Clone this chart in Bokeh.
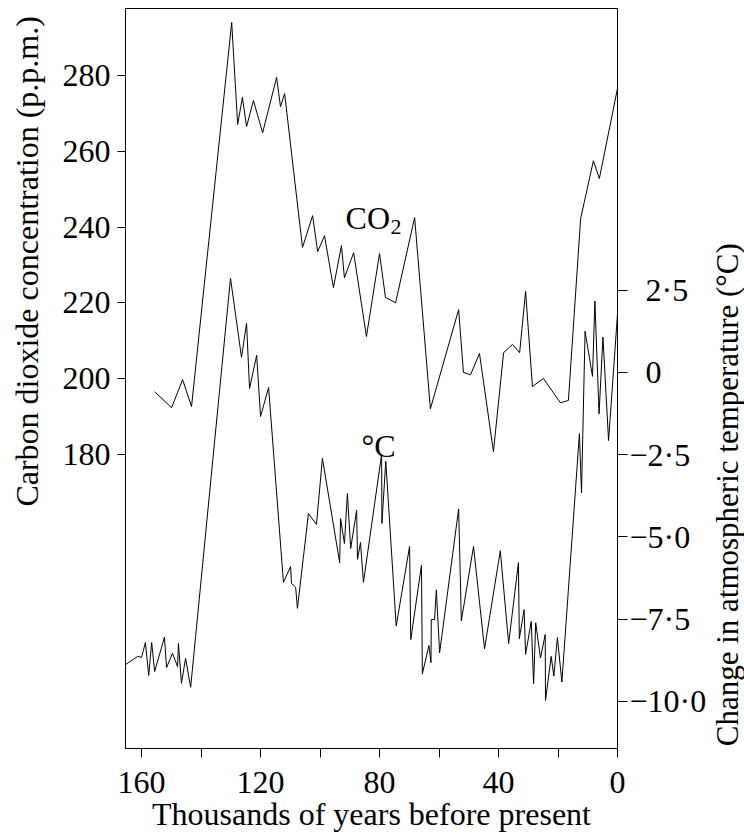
from bokeh.plotting import figure
from bokeh.models import Range1d, LinearAxis, FixedTicker, Label
from bokeh.layouts import row
from bokeh.embed import file_html
from bokeh.resources import INLINE

FONT = "Liberation Serif"
FS = "32px"
H = 837

# CO2 record (thousands of years BP, p.p.m.)
co2_kyr = [155.6, 149.9, 146.2, 143.2, 129.7, 127.7, 126.1, 124.7, 122.4, 119.3,
           114.6, 113.3, 111.9, 105.9, 102.5, 100.8, 98.5, 95.5, 92.8, 91.8,
           88.7, 84.4, 80.0, 78.0, 74.6, 68.2, 62.9, 53.4, 51.8, 49.4,
           46.4, 41.7, 38.3, 35.3, 32.9, 30.9, 28.6, 24.9, 19.2, 16.5,
           12.4, 8.1, 6.1, 0.0]
co2_ppm = [196.5, 192.3, 199.7, 192.6, 294.0, 267.1, 274.2, 266.5, 273.4, 264.9,
           279.5, 271.8, 275.2, 234.6, 243.0, 233.5, 237.7, 224.0, 235.1, 226.6,
           233.2, 211.1, 233.0, 221.4, 220.0, 242.5, 192.0, 218.2, 201.6, 201.0,
           206.6, 180.7, 206.8, 209.0, 206.8, 223.0, 197.9, 200.0, 193.6, 194.2,
           242.2, 257.5, 252.8, 276.6]

# Temperature change record (thousands of years BP, degC)
temp_kyr = [165.4, 161.3, 160.0, 158.7, 157.6, 156.6, 155.6, 152.3, 151.6, 149.6,
            147.9, 147.6, 146.6, 145.2, 143.5, 130.1, 126.4, 124.7, 123.7, 121.3,
            120.0, 117.3, 112.3, 109.9, 109.6, 108.2, 107.6, 103.9, 101.2, 99.2,
            93.4, 93.1, 91.8, 90.8, 89.7, 87.7, 87.4, 86.4, 85.4, 79.3,
            79.2, 77.9, 74.4, 69.9, 69.5, 65.9, 65.6, 63.4, 62.7, 62.6,
            61.5, 60.9, 59.8, 53.4, 52.5, 48.4, 44.7, 39.4, 36.6, 33.3,
            33.0, 31.4, 30.9, 29.0, 28.2, 27.5, 25.9, 24.3, 24.2, 22.3,
            21.4, 20.2, 18.7, 12.8, 12.1, 10.9, 8.4, 7.6, 6.2, 4.9,
            3.0, 0.0]
temp_change = [-8.88, -8.63, -8.66, -8.21, -9.21, -8.21, -9.09, -8.05, -8.97, -8.54,
               -8.94, -8.24, -9.45, -8.69, -9.57, 2.86, 0.46, 1.49, -0.49, 0.52,
               -1.34, -0.46, -6.38, -5.90, -6.41, -6.53, -7.17, -4.29, -4.62, -2.61,
               -5.78, -4.44, -5.20, -3.68, -5.35, -4.19, -5.68, -5.17, -6.38, -2.49,
               -4.59, -2.70, -7.71, -5.29, -8.12, -5.86, -9.16, -8.30, -8.82, -7.51,
               -7.51, -6.61, -8.52, -4.15, -7.55, -5.29, -8.40, -5.42, -8.24, -5.78,
               -8.09, -7.21, -8.57, -7.57, -9.46, -7.61, -8.68, -7.97, -9.97, -8.63,
               -9.23, -8.06, -9.41, -1.86, -3.66, 1.25, -0.12, 2.17, -1.26, 1.07,
               -2.07, 1.78]

x_ticks = [160, 140, 120, 100, 80, 60, 40, 20, 0]
x_tick_labels = {160: "160", 140: "", 120: "120", 100: "", 80: "80", 60: "", 40: "40", 20: "", 0: "0"}
co2_ticks = [180, 200, 220, 240, 260, 280]
temp_ticks = [2.5, 0, -2.5, -5, -7.5, -10]
# positive values keep an en space where the minus sign would be
temp_tick_labels = {2.5: "\u20022·5", 0: "\u20020", -2.5: "−2·5", -5: "−5·0", -7.5: "−7·5", -10: "−10·0"}

x_title = "Thousands of years before present"
co2_title = "Carbon dioxide concentration (p.p.m.)"
temp_title = "Change in atmospheric temperature (°C)"

# ---------- main chart ----------
p = figure(width=653, height=H, output_backend="svg", toolbar_location=None,
           x_range=Range1d(165.4, 0), y_range=Range1d(102.3, 297.7),
           min_border_left=69, min_border_right=92, min_border_top=8, min_border_bottom=89,
           background_fill_color="white", border_fill_color="white")
p.extra_y_ranges = {"temp": Range1d(-11.43, 11.06)}
p.grid.visible = False
p.outline_line_color = "black"
p.outline_line_width = 1
p.outline_line_alpha = 1

p.line(co2_kyr, co2_ppm, line_color="black", line_width=1)
p.line(temp_kyr, temp_change, line_color="black", line_width=1, y_range_name="temp")

def style(ax, tick_out, standoff):
    ax.axis_line_color = "black"
    ax.major_tick_line_color = "black"
    ax.major_tick_out = tick_out
    ax.major_tick_in = 0
    ax.minor_tick_line_color = None
    ax.major_label_text_font = FONT
    ax.major_label_text_font_size = FS
    ax.major_label_text_color = "black"
    ax.major_label_standoff = standoff

xa = p.xaxis[0]
xa.ticker = FixedTicker(ticks=x_ticks)
xa.major_label_overrides = x_tick_labels
style(xa, 9, 14)
xa.axis_label = x_title
xa.axis_label_text_font = FONT
xa.axis_label_text_font_size = FS
xa.axis_label_text_font_style = "normal"
xa.axis_label_text_color = "black"
xa.axis_label_standoff = 0

ya = p.yaxis[0]
ya.ticker = FixedTicker(ticks=co2_ticks)
style(ya, 8, 7)
ya.axis_label = None

ra = LinearAxis(y_range_name="temp", ticker=FixedTicker(ticks=temp_ticks))
ra.major_label_overrides = temp_tick_labels
style(ra, 10, 2)
ra.axis_label = None
p.add_layout(ra, "right")

def lab(fig, text, x, y, size=FS, align="left", angle=0, rng="default", base="alphabetic"):
    fig.add_layout(Label(x=x, y=y, text=text, y_range_name=rng, angle=angle, angle_units="deg",
                         text_align=align, text_baseline=base,
                         text_font=FONT, text_font_size=size, text_color="black"))

lab(p, "CO", 91.4, 242.5)
lab(p, "2", 76.3, 239.9, size="22px")
lab(p, "°C", 86.1, 182.3)

# ---------- side strips holding the rotated axis titles ----------
def strip(w):
    f = figure(width=w, height=H, output_backend="svg", toolbar_location=None,
               x_range=Range1d(0, w), y_range=Range1d(H, 0),
               x_axis_type=None, y_axis_type=None,
               min_border=0, min_border_left=0, min_border_right=0,
               min_border_top=0, min_border_bottom=0,
               background_fill_color="white", border_fill_color="white")
    f.outline_line_color = None
    f.grid.visible = False
    return f

left = strip(56)
lab(left, co2_title, 26, 286, align="center", angle=90)
right = strip(35)
lab(right, temp_title, 17.5, 550, size="31px", align="center", angle=90)

layout = row(left, p, right, spacing=0)
open("out.html", "w").write(file_html(layout, INLINE))
